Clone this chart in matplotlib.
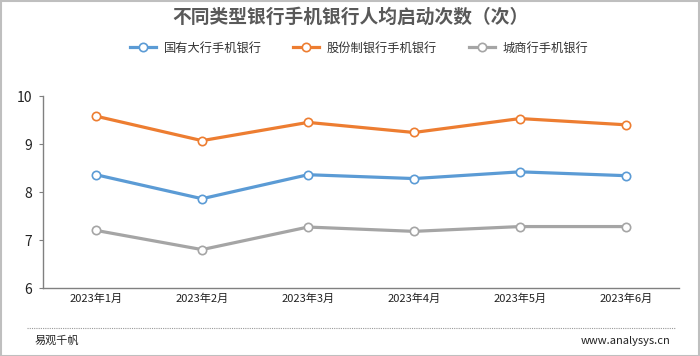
import matplotlib
matplotlib.use("Agg")
import matplotlib.pyplot as plt
from matplotlib.lines import Line2D
from matplotlib.patches import Rectangle

plt.rcParams['font.family'] = ['Noto Sans CJK SC', 'DejaVu Sans']

categories = ["2023年1月", "2023年2月", "2023年3月", "2023年4月", "2023年5月", "2023年6月"]
series_names = ["国有大行手机银行", "股份制银行手机银行", "城商行手机银行"]
big_banks = [8.36, 7.86, 8.36, 8.28, 8.42, 8.34]
joint_stock = [9.58, 9.07, 9.45, 9.24, 9.53, 9.40]
city_banks = [7.20, 6.80, 7.27, 7.18, 7.28, 7.28]
colors = ["#5B9BD5", "#ED7D31", "#A5A5A5"]
yticks = [6, 7, 8, 9, 10]

fig = plt.figure(figsize=(7.0, 3.56), dpi=100)
W, H = 700, 356
ax = fig.add_axes([43 / W, 1 - 288 / H, (679 - 43) / W, (288 - 96) / H])

x = list(range(len(categories)))
for vals, c, name in zip([big_banks, joint_stock, city_banks], colors, series_names):
    ax.plot(x, vals, color=c, lw=2.3, marker='o', markersize=6,
            markerfacecolor='white', markeredgecolor=c, markeredgewidth=1.2,
            label=name, solid_joinstyle='round', zorder=3)

ax.set_xlim(-0.5, len(categories) - 0.5)
ax.set_ylim(6, 10)
ax.set_yticks(yticks)
ax.set_yticklabels([str(v) for v in yticks], fontsize=10, color='#222222')
ax.set_xticks(x)
ax.set_xticklabels(categories, fontsize=8, color='#222222')
ax.tick_params(axis='x', length=0, pad=4)
ax.tick_params(axis='y', length=3, width=0.8, color='#808080', pad=5, direction='out')
for s in ['top', 'right']:
    ax.spines[s].set_visible(False)
for s in ['left', 'bottom']:
    ax.spines[s].set_color('#808080')
    ax.spines[s].set_linewidth(1.0)

fig.text(0.5, 1 - 17 / H, "不同类型银行手机银行人均启动次数（次）", ha='center', va='center',
         fontsize=13.5, fontweight='bold', color='#595959')

handles = [Line2D([0], [0], color=c, lw=2.3, marker='o', markersize=6,
                  markerfacecolor='white', markeredgecolor=c, markeredgewidth=1.2)
           for c in colors]
leg = fig.legend(handles, series_names, loc='center', bbox_to_anchor=(0.513, 1 - 48 / H),
                 ncol=3, frameon=False, fontsize=8.8, handlelength=2.1, columnspacing=2.6,
                 handletextpad=0.65)
for t in leg.get_texts():
    t.set_color('#333333')

# dotted separator
fig.add_artist(Line2D([27 / W, 675 / W], [1 - 328 / H, 1 - 328 / H], color='#999999',
                      lw=0.8, linestyle=(0, (1, 1))))
fig.text(35 / W, 1 - 341 / H, "易观千帆", ha='left', va='center', fontsize=8, color='#222222')
fig.text(670 / W, 1 - 341 / H, "www.analysys.cn", ha='right', va='center', fontsize=8, color='#222222')

# outer border
fig.add_artist(Rectangle((0.5 / W, 0.5 / H), 1 - 1.5 / W, 1 - 1.5 / H, transform=fig.transFigure,
                         fill=False, edgecolor='#BFBFBF', lw=1.5))

fig.savefig("out.png", dpi=100)
